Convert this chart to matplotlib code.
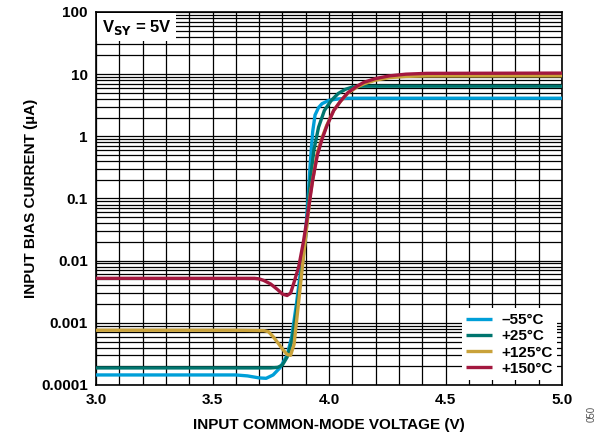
import matplotlib
matplotlib.use("Agg")
import matplotlib.pyplot as plt
from matplotlib.ticker import FixedLocator, LogLocator, NullFormatter

plt.rcParams['font.family'] = ['Liberation Sans', 'DejaVu Sans']

# ---- data ----
labels = ["\u201355\u00b0C", "+25\u00b0C", "+125\u00b0C", "+150\u00b0C"]
colors = ["#009FD8", "#00756E", "#C9A23A", "#A3183F"]

v_m55 = [3.0, 3.2, 3.4, 3.6, 3.65, 3.70, 3.73, 3.76, 3.79, 3.82, 3.84, 3.86, 3.88,
         3.90, 3.91, 3.92, 3.93, 3.94, 3.955, 3.97, 4.0, 4.04, 4.08, 5.0]
i_m55 = [1.45e-4, 1.45e-4, 1.45e-4, 1.45e-4, 1.40e-4, 1.30e-4, 1.28e-4, 1.45e-4, 1.9e-4,
         3.0e-4, 6e-4, 2e-3, 8e-3, 3e-2, 0.1, 0.4, 1.2, 2.2, 2.9, 3.35, 3.8, 4.0, 4.1, 4.1]

v_25 = [3.0, 3.3, 3.6, 3.75, 3.78, 3.80, 3.82, 3.84, 3.86, 3.88, 3.90, 3.92, 3.935,
        3.955, 3.98, 4.01, 4.04, 4.07, 4.10, 4.14, 5.0]
i_25 = [1.88e-4, 1.88e-4, 1.88e-4, 1.88e-4, 1.92e-4, 2.1e-4, 2.8e-4, 5e-4, 1.5e-3, 6e-3,
        2.5e-2, 0.2, 0.6, 1.4, 2.6, 3.8, 4.9, 5.7, 6.2, 6.4, 6.4]

v_125 = [3.0, 3.3, 3.6, 3.72, 3.74, 3.76, 3.78, 3.80, 3.82, 3.835, 3.85, 3.865, 3.88,
         3.90, 3.92, 3.95, 3.97, 3.99, 4.02, 4.05, 4.08, 4.12, 4.15, 4.20, 4.26,
         4.33, 4.42, 5.0]
i_125 = [7.6e-4, 7.6e-4, 7.6e-4, 7.5e-4, 7.2e-4, 6.0e-4, 4.8e-4, 3.8e-4, 3.1e-4, 3.0e-4,
         4.5e-4, 1.5e-3, 5e-3, 2.5e-2, 0.12, 0.55, 0.95, 1.5, 2.6, 3.7, 4.9, 6.2, 7.0,
         8.0, 8.8, 9.2, 9.35, 9.4]

v_150 = [3.0, 3.3, 3.6, 3.68, 3.70, 3.72, 3.75, 3.78, 3.80, 3.82, 3.835, 3.85, 3.87,
         3.89, 3.91, 3.93, 3.95, 3.97, 3.99, 4.02, 4.05, 4.08, 4.12, 4.15, 4.20,
         4.26, 4.33, 4.42, 5.0]
i_150 = [5.2e-3, 5.2e-3, 5.2e-3, 5.2e-3, 5.1e-3, 4.8e-3, 4.2e-3, 3.4e-3, 2.9e-3, 2.75e-3,
         3.0e-3, 4.5e-3, 8e-3, 2e-2, 6e-2, 0.2, 0.5, 0.9, 1.45, 2.6, 3.7, 5.0, 6.4, 7.4,
         8.5, 9.4, 10.0, 10.3, 10.4]

x_ticks = [3.0, 3.5, 4.0, 4.5, 5.0]
y_ticks = [1e-4, 1e-3, 1e-2, 1e-1, 1, 10, 100]
y_ticklabels = ["0.0001", "0.001", "0.01", "0.1", "1", "10", "100"]

series = [(v_m55, i_m55), (v_25, i_25), (v_125, i_125), (v_150, i_150)]

fig = plt.figure(figsize=(5.99, 4.36), dpi=100)
ax = fig.add_axes([0.1603, 0.1170, 0.7780, 0.8555])

for (v, i), c, lab in zip(series, colors, labels):
    ax.plot(v, i, color=c, lw=2.4, label=lab, solid_capstyle='butt', zorder=3)

ax.set_yscale('log')
ax.set_xlim(3.0, 5.0)
ax.set_ylim(1e-4, 100)

ax.xaxis.set_major_locator(FixedLocator(x_ticks))
ax.xaxis.set_minor_locator(FixedLocator([3.0 + 0.1 * k for k in range(21)]))
ax.set_xticklabels([f"{t:.1f}" for t in x_ticks])
ax.yaxis.set_major_locator(FixedLocator(y_ticks))
ax.set_yticklabels(y_ticklabels)
ax.yaxis.set_minor_locator(LogLocator(base=10, subs=range(2, 10), numticks=20))
ax.yaxis.set_minor_formatter(NullFormatter())

ax.grid(True, which='both', axis='both', color='black', lw=0.9)
ax.tick_params(which='both', length=0, pad=6)
for lbl in ax.get_xticklabels() + ax.get_yticklabels():
    lbl.set_fontweight('bold')
    lbl.set_fontsize(11)
for s in ax.spines.values():
    s.set_linewidth(1.2)
    s.set_color('black')

ax.set_xlabel("INPUT COMMON-MODE VOLTAGE (V)", fontsize=11, fontweight='bold', labelpad=8)
ax.set_ylabel("INPUT BIAS CURRENT (\u00b5A)", fontsize=11, fontweight='bold', labelpad=2)

ax.text(0.012, 0.985, r"V$_{\mathbf{SY}}$ = 5V", transform=ax.transAxes,
        fontsize=12, fontweight='bold', va='top', ha='left',
        bbox=dict(facecolor='white', edgecolor='none', pad=3), zorder=5)

leg = ax.legend(loc='lower right', frameon=True, fancybox=False, fontsize=11,
                handlelength=1.7, handletextpad=0.6, labelspacing=0.15,
                borderpad=0.3, borderaxespad=0.3)
leg.get_frame().set_facecolor('white')
leg.get_frame().set_edgecolor('none')
leg.get_frame().set_alpha(1)
leg.set_zorder(6)
for t in leg.get_texts():
    t.set_fontweight('bold')

fig.text(0.988, 0.05, "050", rotation=90, fontsize=7, color='#555555', ha='center', va='center')

fig.savefig("out.png", dpi=100)
